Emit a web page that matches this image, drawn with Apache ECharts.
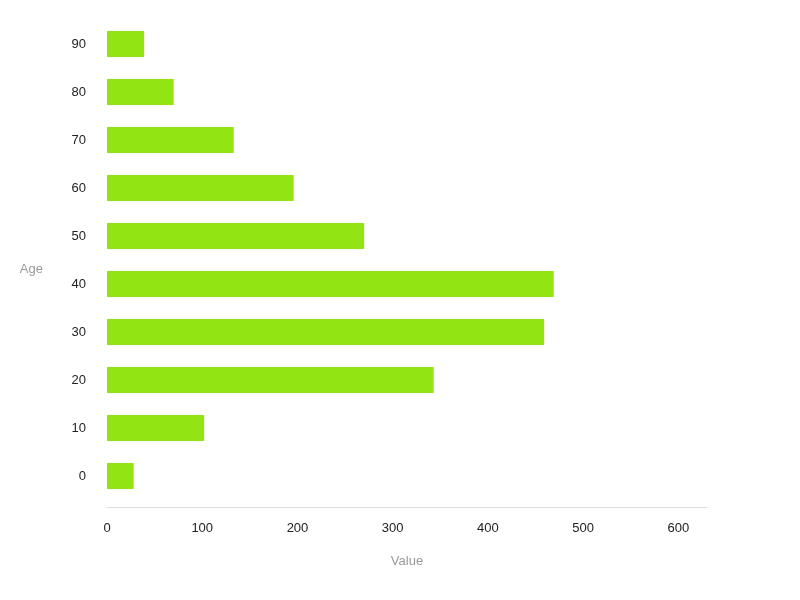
<!DOCTYPE html>
<html>
<head>
<meta charset="utf-8">
<script src="https://cdn.jsdelivr.net/npm/echarts@6/dist/echarts.min.js"></script>
<style>
  html, body { margin: 0; padding: 0; background: #fff; }
  #main { width: 800px; height: 600px; }
</style>
</head>
<body>
<div id="main"></div>
<script>
// age groups, bottom to top
const ages = ['0', '10', '20', '30', '40', '50', '60', '70', '80', '90'];
// values
const values = [28, 102, 343, 459, 469, 270, 196, 133, 70, 39];
const xTicks = [0, 100, 200, 300, 400, 500, 600];

const myChart = echarts.init(document.getElementById('main'));

const option = {
  backgroundColor: '#fff',
  textStyle: { fontFamily: 'Liberation Sans, Arial, sans-serif' },
  grid: { left: 107, right: 93, top: 20, bottom: 100 },
  xAxis: {
    type: 'value',
    min: xTicks[0],
    max: 630,
    interval: 100,
    offset: 7,
    name: 'Value',
    nameLocation: 'middle',
    nameGap: 48,
    nameTextStyle: { color: '#999', fontSize: 13 },
    axisLine: { show: true, lineStyle: { color: '#ddd' } },
    axisTick: { show: false },
    splitLine: { show: false },
    axisLabel: { color: '#222', fontSize: 13, margin: 15, showMaxLabel: false }
  },
  yAxis: {
    type: 'category',
    data: ages,
    name: 'Age',
    nameLocation: 'middle',
    nameGap: 64,
    nameRotate: 0,
    nameTextStyle: { color: '#999', fontSize: 13, verticalAlign: 'top', padding: [3, 0, 0, 0] },
    axisLine: { show: false },
    axisTick: { show: false },
    axisLabel: { color: '#222', fontSize: 13, margin: 21 }
  },
  series: [
    {
      type: 'bar',
      data: values,
      barWidth: 26,
      itemStyle: { color: '#92e412' }
    }
  ]
};

option && myChart.setOption(option);
</script>
</body>
</html>
